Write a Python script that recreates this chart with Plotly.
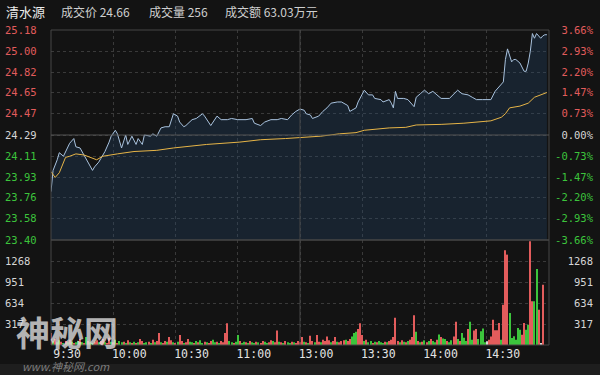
import plotly.graph_objects as go

# ---------------- data ----------------
stock_name = "清水源"
quote_labels = ["成交价", "成交量", "成交额"]
quote_values = ["24.66", "256", "63.03万元"]
prev_close = 24.29
price_ticks = [25.18, 25.00, 24.82, 24.65, 24.47, 24.29, 24.11, 23.93, 23.76, 23.58, 23.40]
pct_labels = ["3.66%", "2.93%", "2.20%", "1.47%", "0.73%", "0.00%",
              "-0.73%", "-1.47%", "-2.20%", "-2.93%", "-3.66%"]
vol_ticks = [317, 634, 951, 1268]
vol_top = 1585
time_labels = ["9:30", "10:00", "10:30", "11:00", "13:00", "13:30", "14:00", "14:30"]
session_minutes = 240

# price line (minutes since open, price)
price_min = [0, 1, 3, 4, 6, 8, 9, 11, 12, 14, 16, 18, 20, 21, 23, 24, 26, 28, 29, 31, 32, 34,
             36, 37, 39, 41, 42, 44, 45, 48, 49, 51, 53, 55, 57, 59, 61, 62, 64, 65, 68, 70,
             73, 74, 76, 77, 80, 82, 85, 87, 90, 94, 97, 98, 101, 103, 106, 109, 111, 114,
             116, 118, 120, 122, 123, 125, 126, 129, 131, 133, 135, 138, 140, 143, 144, 147,
             148, 150, 151, 153, 155, 156, 159, 160, 163, 164, 165, 166, 167, 170, 172, 175,
             176, 178, 180, 182, 184, 186, 188, 192, 196, 198, 201, 203, 205, 208, 212, 214,
             216, 218, 219, 220, 222, 223, 224, 226, 228, 229, 230, 231, 232, 233, 234, 235,
             236, 237, 238, 239]
price_val = [23.81, 23.99, 24.08, 24.14, 24.11, 24.18, 24.22, 24.26, 24.19, 24.18, 24.12, 24.05,
             23.99, 24.02, 24.06, 24.09, 24.15, 24.23, 24.28, 24.33, 24.30, 24.18, 24.29, 24.21,
             24.28, 24.21, 24.26, 24.21, 24.29, 24.28, 24.30, 24.28, 24.35, 24.36, 24.36, 24.47,
             24.45, 24.40, 24.36, 24.37, 24.42, 24.43, 24.47, 24.45, 24.39, 24.37, 24.45, 24.42,
             24.42, 24.43, 24.42, 24.42, 24.43, 24.39, 24.37, 24.40, 24.42, 24.42, 24.43, 24.42,
             24.46, 24.49, 24.51, 24.50, 24.47, 24.46, 24.43, 24.45, 24.49, 24.52, 24.56, 24.57,
             24.57, 24.54, 24.49, 24.52, 24.57, 24.63, 24.67, 24.63, 24.63, 24.60, 24.59, 24.57,
             24.59, 24.56, 24.52, 24.66, 24.60, 24.60, 24.59, 24.53, 24.61, 24.64, 24.67, 24.64,
             24.66, 24.63, 24.60, 24.60, 24.67, 24.64, 24.63, 24.61, 24.59, 24.59, 24.59, 24.66,
             24.70, 24.74, 24.93, 25.02, 24.91, 24.93, 24.93, 24.90, 24.83, 24.83, 24.90, 25.00,
             25.15, 25.11, 25.15, 25.13, 25.11, 25.13, 25.14, 25.14]
# average price line
avg_min = [0, 2, 4, 7, 9, 12, 16, 20, 22, 25, 28, 32, 40, 51, 59, 75, 91, 101, 113, 121, 130,
           139, 147, 151, 163, 171, 176, 188, 199, 212, 217, 219, 221, 226, 230, 233, 239]
avg_val = [23.98, 23.93, 23.97, 24.10, 24.11, 24.13, 24.12, 24.09, 24.08, 24.11, 24.12, 24.13,
           24.15, 24.16, 24.18, 24.21, 24.23, 24.25, 24.26, 24.27, 24.28, 24.30, 24.31, 24.33,
           24.35, 24.355, 24.375, 24.38, 24.39, 24.41, 24.44, 24.47, 24.52, 24.535, 24.56,
           24.61, 24.65]
# per-minute volume (lots) and direction (R up, G down, W flat)
volume = [180, 60, 90, 40, 70, 50, 30, 60, 40, 80,
          50, 30, 40, 60, 90, 40, 30, 120, 60, 40,
          30, 50, 70, 40, 60, 90, 40, 30, 110, 50,
          40, 80, 30, 60, 40, 50, 30, 70, 40, 30,
          50, 30, 40, 90, 60, 30, 40, 50, 30, 80,
          40, 60, 180, 40, 30, 60, 50, 120, 70, 40,
          30, 50, 150, 60, 30, 40, 90, 50, 40, 30,
          60, 40, 70, 30, 50, 40, 30, 60, 80, 40,
          50, 30, 60, 40, 180, 330, 60, 40, 30, 50,
          150, 60, 30, 50, 40, 30, 60, 40, 30, 50,
          40, 30, 60, 50, 30, 40, 70, 60, 40, 220,
          50, 40, 30, 60, 40, 30, 50, 40, 30, 60,
          40, 120, 50, 40, 30, 140, 60, 40, 150, 50,
          40, 80, 60, 130, 70, 40, 60, 120, 50, 40,
          60, 70, 80, 60, 90, 130, 180, 200, 240, 330,
          150, 60, 80, 40, 60, 30, 50, 40, 60, 40,
          30, 50, 40, 60, 80, 120, 410, 60, 40, 70,
          50, 40, 60, 80, 120, 450, 200, 60, 40, 50,
          70, 40, 60, 90, 60, 40, 80, 160, 120, 100,
          90, 60, 40, 70, 130, 350, 90, 60, 180, 110,
          60, 240, 350, 80, 220, 240, 90, 206, 250, 40,
          55, 80, 130, 383, 221, 221, 332, 80, 609, 1429,
          1364, 483, 106, 131, 80, 257, 231, 156, 332, 231,
          307, 1565, 659, 659, 1147, 533, 30, 911, 0, 0]
vol_dir = ("RGRGGRGRGR" "GRGGRGRGRG" "GRRGRRGRRG" "RGRGGRGRGR" "GRGRRGGRGR"
           "GRRGRRGRRG" "RGRRGRRGGR" "GRGGRGRRGG" "RGRRRRGGRG" "GRGGRGRGGR"
           "GRRGGRRGRR" "GRGRGGRGRR" "RRGRGRRGRR" "GRRRRGRRGR" "RRGRRGGGRR"
           "RGRGGRGRGG" "GRGRRRRRGR" "GRGRRRGRGR" "GRGRGGRGRG" "GRGGRRGRGG"
           "GRGGRRGGGG" "WRRRRRRGRR" "RGGGGGGRRG" "GRRGGRWRRR")

# ---------------- styling helpers ----------------
W, H = 600, 375
ML, MR, MT, MB = 1, 4, 30, 30
PW, PH = W - ML - MR, H - MT - MB


def px_x(p):
    return (p - ML) / PW


def px_y(p):
    return (H - MB - p) / PH


RED = "#e25c5c"
GREEN = "#3cc43c"
FLAT = "#d6d6d6"
BG = "#131313"
GRID = "#3a3a3a"
BORDER = "#474747"
MONO = "DejaVu Sans Mono"
CJK = "Noto Sans CJK SC"


def minute_index(label):
    h, m = map(int, label.split(":"))
    t = h * 60 + m
    return t - 570 if t <= 690 else t - 780 + 120


def level_color(v):
    if abs(v - prev_close) < 0.005:
        return FLAT
    return RED if v > prev_close else GREEN


price_text = [f'<span style="color:{level_color(v)}">{v:.2f}</span>' for v in price_ticks]
pct_text = [f'<span style="color:{level_color(v)}">{t}</span>' for v, t in zip(price_ticks, pct_labels)]
time_pos = [minute_index(t) for t in time_labels]
minutes = list(range(len(volume)))
up_vol = [v if d != "G" else None for v, d in zip(volume, vol_dir)]
up_col = [RED if d == "R" else FLAT for d in vol_dir]
dn_vol = [v if d == "G" else None for v, d in zip(volume, vol_dir)]

xdom = [px_x(51), px_x(549)]
split = px_y(240)

fig = go.Figure()
fig.add_trace(go.Scatter(x=price_min, y=price_val, xaxis="x", yaxis="y", mode="lines",
                         line=dict(color="#a9c3df", width=1), fill="tozeroy",
                         fillcolor="rgba(38,72,112,0.30)", hoverinfo="skip"))
fig.add_trace(go.Scatter(x=avg_min, y=avg_val, xaxis="x", yaxis="y2", mode="lines",
                         line=dict(color="#e6b447", width=1), hoverinfo="skip"))
fig.add_trace(go.Bar(x=minutes, y=up_vol, xaxis="x2", yaxis="y3", width=0.5,
                     marker=dict(color=up_col, line=dict(width=0)), hoverinfo="skip"))
fig.add_trace(go.Bar(x=minutes, y=dn_vol, xaxis="x2", yaxis="y4", width=0.5,
                     marker=dict(color=GREEN, line=dict(width=0)), hoverinfo="skip"))

axis_font = dict(family=MONO, size=10.5)
common_x = dict(domain=xdom, range=[0, session_minutes], tickvals=time_pos, showgrid=True,
                gridcolor=GRID, griddash="dot", gridwidth=1, zeroline=False, showline=False,
                ticks="", fixedrange=True)
fig.update_layout(
    width=W, height=H, margin=dict(l=ML, r=MR, t=MT, b=MB),
    paper_bgcolor=BG, plot_bgcolor=BG, showlegend=False, barmode="overlay",
    xaxis=dict(**common_x, anchor="y", showticklabels=False),
    xaxis2=dict(**common_x, anchor="y3", ticktext=time_labels, ticklabelshift=16,
                tickfont=dict(family=MONO, size=11.5, color="#e4e4e4")),
    yaxis=dict(domain=[split, 1], range=[price_ticks[-1], price_ticks[0]], anchor="free",
               position=0, side="left", ticklabelposition="inside", ticklabeloverflow="allow",
               tickvals=price_ticks, ticktext=price_text, tickfont=axis_font, showgrid=True,
               gridcolor=GRID, griddash="dot", zeroline=False, ticks=""),
    yaxis2=dict(overlaying="y", range=[price_ticks[-1], price_ticks[0]], anchor="free",
                position=1, side="right", ticklabelposition="inside", ticklabeloverflow="allow",
                tickvals=price_ticks, ticktext=pct_text, tickfont=axis_font, showgrid=False,
                zeroline=False, ticks=""),
    yaxis3=dict(domain=[0, split], range=[0, vol_top], anchor="free", position=0, side="left",
                ticklabelposition="inside", ticklabeloverflow="allow", tickvals=vol_ticks,
                ticktext=[str(v) for v in vol_ticks], tickfont=dict(family=MONO, size=10.5, color=FLAT),
                showgrid=True, gridcolor=GRID, griddash="dot", zeroline=False, ticks=""),
    yaxis4=dict(overlaying="y3", range=[0, vol_top], anchor="free", position=1, side="right",
                ticklabelposition="inside", ticklabeloverflow="allow", tickvals=vol_ticks,
                ticktext=[str(v) for v in vol_ticks], tickfont=dict(family=MONO, size=10.5, color=FLAT),
                showgrid=False, zeroline=False, ticks=""),
)

shapes = [
    dict(type="rect", xref="x domain", yref="y domain", x0=0, x1=1, y0=0, y1=1,
         line=dict(color=BORDER, width=1)),
    dict(type="rect", xref="x2 domain", yref="y3 domain", x0=0, x1=1, y0=0, y1=1,
         line=dict(color=BORDER, width=1)),
    dict(type="line", xref="x", yref="paper", x0=120, x1=120, y0=0, y1=1,
         line=dict(color=BORDER, width=1)),
    dict(type="line", xref="x domain", yref="y", x0=0, x1=1, y0=prev_close, y1=prev_close,
         line=dict(color="#555555", width=1)),
    dict(type="rect", xref="paper", yref="paper", x0=-0.01, x1=1.01, y0=px_y(376), y1=px_y(364),
         line=dict(width=0), fillcolor="#1e1e1e", layer="below"),
]
fig.update_layout(shapes=shapes)

annotations = [dict(x=px_x(4), y=px_y(12), xref="paper", yref="paper", text=stock_name,
                    showarrow=False, xanchor="left", yanchor="middle",
                    font=dict(family=CJK, size=13, color="#ececec"))]
for lbl, val, xp in zip(quote_labels, quote_values, [59, 147, 223]):
    annotations.append(dict(x=px_x(xp), y=px_y(12), xref="paper", yref="paper",
                            text=f"{lbl} {val}", showarrow=False, xanchor="left",
                            yanchor="middle", font=dict(family=CJK, size=12, color="#cfcfcf")))
annotations.append(dict(x=px_x(67), y=px_y(331), xref="paper", yref="paper", text="<b>神秘网</b>",
                        showarrow=False, xanchor="center", yanchor="middle",
                        font=dict(family=CJK, size=34, color="rgba(225,225,225,0.80)")))
annotations.append(dict(x=px_x(66), y=px_y(366), xref="paper", yref="paper",
                        text="<i>www.神秘网.com</i>", showarrow=False, xanchor="center",
                        yanchor="middle", font=dict(family=CJK, size=11, color="rgba(150,150,150,0.8)")))
fig.update_layout(annotations=annotations)

fig.write_html("out.html", config={"displayModeBar": False},
               post_script="document.body.style.margin='0';")
